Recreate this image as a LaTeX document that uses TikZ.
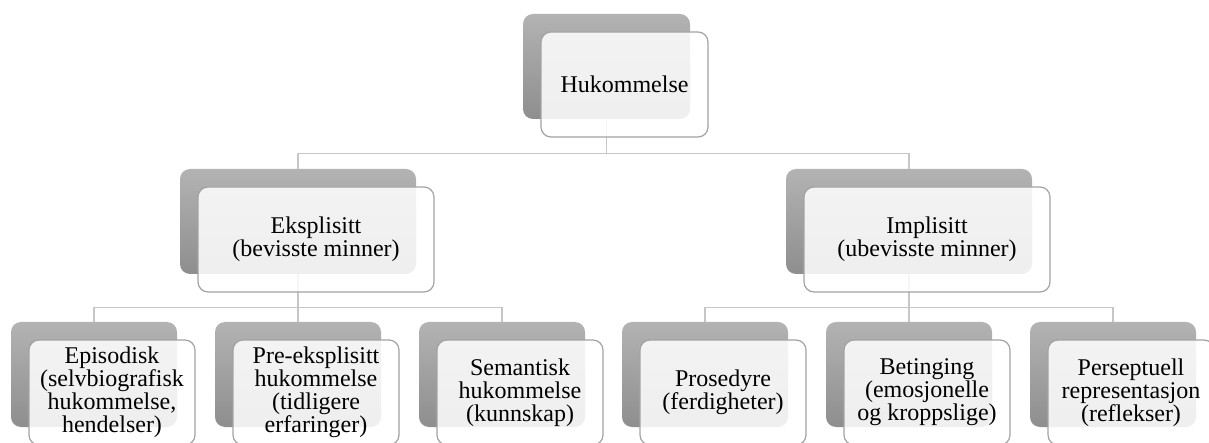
\documentclass[tikz,border=0pt]{standalone}
\usepackage{fontspec}
\setmainfont{Liberation Serif}
\definecolor{grayTop}{HTML}{B3B3B3}
\definecolor{grayBot}{HTML}{8E8E8E}
\definecolor{boxLine}{HTML}{A3A3A3}
\definecolor{linkGray}{HTML}{C6C6C6}
\tikzset{
  back/.style={rounded corners=10pt, top color=grayTop, bottom color=grayBot, minimum height=105pt, inner sep=0pt},
  front/.style={draw=boxLine, line width=1.2pt, rounded corners=10pt, fill=white, fill opacity=0.86, text opacity=1,
    minimum height=105pt, inner sep=0pt, align=center, font=\fontsize{24}{23}\selectfont},
  link/.style={draw=linkGray, line width=1.3pt}
}
\begin{document}
\begin{tikzpicture}[x=1pt,y=-1pt]
\useasboundingbox (0,0) rectangle (1209,443);
% grey back shapes
\node[back, minimum width=167pt] (hukB) at (606.5,66.5) {};
\node[back, minimum width=236pt] (eksB) at (298,221.5) {};
\node[back, minimum width=246pt] (impB) at (909,221.5) {};
\foreach \n/\x in {epi/94, pre/298, sem/502, pro/705, bet/909, per/1113}
{
	\node[back, minimum width=166pt] (\n B) at (\x,374.5) {};
}
% connectors
\draw[link] (hukB.south) -- ++(0,34) -| (eksB.north);
\draw[link] (hukB.south) -- ++(0,34) -| (impB.north);
\foreach \n in {epi, pre, sem}
{
	\draw[link] (eksB.south) -- ++(0,33) -| (\n B.north);
}
\foreach \n in {pro, bet, per}
{
	\draw[link] (impB.south) -- ++(0,33) -| (\n B.north);
}
% front boxes with text
\node[front, minimum width=167pt] (huk) at ([shift={(18,18)}]hukB.center) {Hukommelse};
\node[front, minimum width=236pt] (eks) at ([shift={(18,18)}]eksB.center) {Eksplisitt\\(bevisste minner)};
\node[front, minimum width=246pt] (imp) at ([shift={(18,18)}]impB.center) {Implisitt\\(ubevisste minner)};
\foreach \n/\t in {epi/{Episodisk\\(selvbiografisk\\hukommelse,\\hendelser)},
	pre/{Pre-eksplisitt\\hukommelse\\(tidligere\\erfaringer)},
	sem/{Semantisk\\hukommelse\\(kunnskap)},
	pro/{Prosedyre\\(ferdigheter)},
	bet/{Betinging\\(emosjonelle\\og kroppslige)},
	per/{Perseptuell\\representasjon\\(reflekser)}}
{
	\node[front, minimum width=166pt] (\n) at ([shift={(18,18)}]\n B.center) {\t};
}
\end{tikzpicture}
\end{document}
